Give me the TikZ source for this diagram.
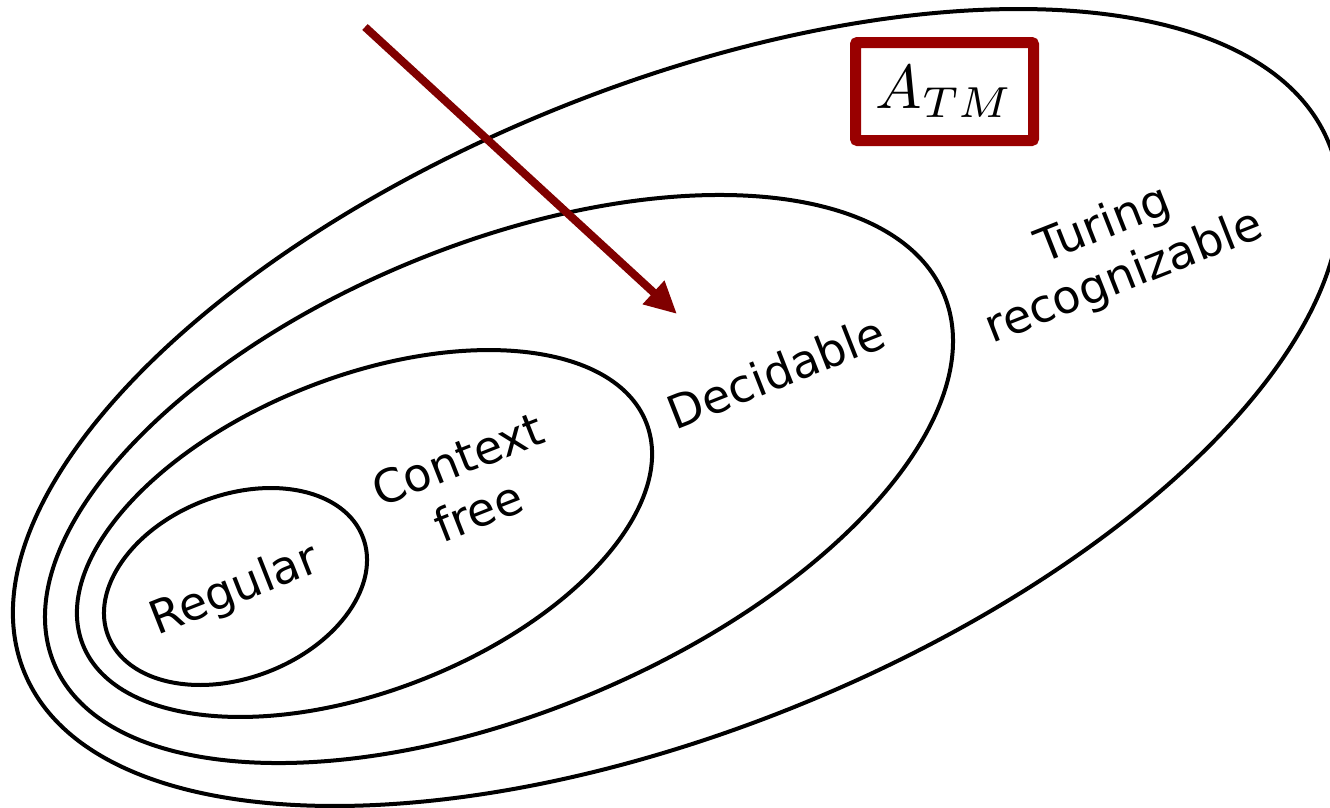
\documentclass[tikz,border=0pt]{standalone}
\usepackage{fontspec}
\setmainfont{DejaVu Sans}
\usetikzlibrary{arrows.meta}
\definecolor{arrowred}{HTML}{800000}
\definecolor{boxred}{HTML}{990000}
\begin{document}
\begin{tikzpicture}[x=1pt,y=-1pt,
  ring/.style={draw=black, line width=4pt},
  classlabel/.style={font=\fontsize{46}{56}\selectfont, rotate=21.5,
    align=center, inner sep=0pt},
  langbox/.style={draw=boxred, line width=11pt, rounded corners=2pt,
    minimum width=178pt, minimum height=98pt, inner sep=0pt},
  pointer/.style={draw=arrowred, line width=8pt,
    -{Triangle[length=32pt,width=30pt]}}]
\useasboundingbox (0,0) rectangle (1330,807);
\clip (0,0) rectangle (1330,807);

% nested language classes
\draw[ring, shift={(676.5,407.5)}, rotate=22.05] (0,0) ellipse [x radius=703.9pt, y radius=321.8pt];
\draw[ring, shift={(499,479)}, rotate=22.5] (0,0) ellipse [x radius=481.7pt, y radius=233.9pt];
\draw[ring, shift={(364.5,533.5)}, rotate=21.5] (0,0) ellipse [x radius=302.8pt, y radius=157pt];
\draw[ring, shift={(235.5,586.5)}, rotate=21.3] (0,0) ellipse [x radius=136.6pt, y radius=91.3pt];

% class names
\node[classlabel] (regular) at (235,591) {Regular};
\node[classlabel] (cfree) at (468,485) {Context\\free};
\node[classlabel] (decidable) at (776,372) {Decidable};
\node[classlabel] (turing) at (1114,252) {Turing\\recognizable};

% the language A_TM
\node[langbox] (atm) at (944.5,91.5) {\raisebox{-5pt}{\scalebox{6.2}{$A_{TM}$}}};

% pointer into the decidable region
\coordinate (pstart) at (365,27);
\coordinate (ptip) at (677,314);
\draw[pointer] (pstart) -- (ptip);
\end{tikzpicture}
\end{document}
